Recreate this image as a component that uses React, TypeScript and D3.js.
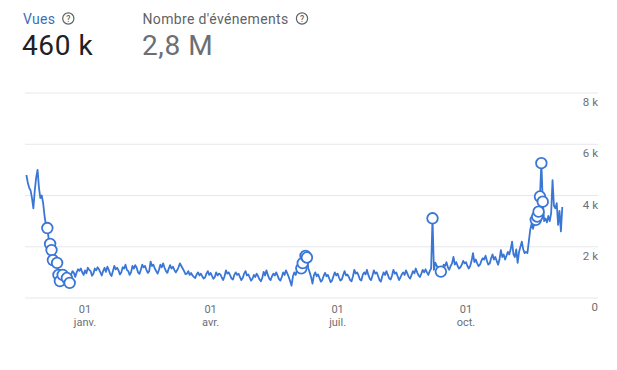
import React from "react";
import * as d3 from "d3";

const startDate = new Date(2022, 10, 20);

// daily "Vues" values, starting 20 Nov 2022
const views: number[] = [
  4800, 4500, 4300, 4200, 3900, 3500, 4200, 4700, 5000, 4300,
  3900, 4000, 3700, 3200, 2850, 2730, 2300, 2110, 1870, 1480,
  1550, 1400, 1370, 900, 660, 1000, 900, 1100, 1000, 780,
  950, 590, 900, 1050, 980, 820, 1000, 1120, 1060, 1150,
  1000, 900, 1080, 960, 1180, 1100, 1050, 870, 950, 1150,
  1080, 1200, 1120, 1000, 880, 1050, 1180, 1020, 1220, 1100,
  940, 860, 1050, 1250, 1120, 1180, 1080, 920, 1000, 1200,
  1150, 1300, 1100, 1050, 900, 1000, 1250, 1150, 1280, 1180,
  1000, 940, 1100, 1300, 1200, 1250, 1100, 980, 1050, 1420,
  1250, 1300, 1150, 1050, 950, 1100, 1300, 1200, 1350, 1180,
  1050, 980, 1150, 1280, 1150, 1220, 1100, 1000, 1080, 1200,
  1350, 1250, 1150, 1050, 930, 950, 1050, 900, 980, 880,
  820, 780, 920, 1000, 880, 950, 850, 760, 800, 950,
  1050, 900, 980, 860, 750, 820, 1000, 880, 950, 920,
  800, 700, 850, 1080, 950, 1000, 880, 760, 720, 900,
  1000, 900, 950, 820, 700, 780, 950, 1050, 880, 920,
  800, 680, 750, 900, 820, 950, 850, 730, 650, 780,
  1020, 880, 1080, 900, 760, 700, 850, 950, 880, 1000,
  870, 740, 680, 820, 1000, 900, 1080, 950, 820, 650,
  480, 850, 1000, 900, 1100, 1000, 980, 1160, 1360, 1500,
  1640, 1580, 1150, 1000, 820, 560, 880, 1000, 850, 920,
  780, 640, 700, 860, 980, 850, 900, 760, 620, 680,
  850, 1000, 880, 950, 800, 680, 720, 900, 1050, 880,
  920, 820, 700, 650, 850, 1100, 950, 1000, 880, 720,
  680, 900, 1000, 920, 1100, 900, 760, 700, 880, 1080,
  950, 1000, 860, 700, 640, 850, 1000, 900, 1050, 900,
  760, 720, 880, 1100, 950, 1000, 850, 700, 800, 920,
  1000, 900, 1080, 950, 820, 760, 900, 1050, 960, 1150,
  1000, 880, 820, 950, 1100, 1000, 1120, 1000, 900, 1050,
  1150, 3110, 1100, 1380, 1250, 1200, 1100, 1030, 1150, 1300,
  1250, 1400, 1200, 1100, 1250, 1350, 1600, 1300, 1400, 1250,
  1150, 1200, 1300, 1450, 1350, 1400, 1250, 1150, 1250, 1450,
  1750, 1400, 1500, 1350, 1250, 1300, 1450, 1550, 1500, 1650,
  1450, 1300, 1350, 1550, 1700, 1500, 1600, 1450, 1300, 1500,
  1870, 1600, 1700, 1500, 1650, 1800, 1700, 1900, 2200, 1700,
  1600, 1900, 1370, 1800, 2000, 2200, 1900, 1750, 1800, 1750,
  2200, 2660, 2900, 2700, 2900, 3050, 3180, 3370, 3960, 5260,
  3760, 3000, 3100, 2950, 3200, 3000, 3300, 4600, 3600, 3500,
  3700, 2850, 3400, 2600, 3550,
];

// indices of days flagged as anomalies (hollow circles)
const anomalyDays: number[] = [
  15, 17, 18, 19, 22, 23, 24, 26, 29, 31,
  197, 198, 200, 201,
  291, 297,
  365, 366, 367, 368, 369, 370,
];

const yTickValues: number[] = [0, 2000, 4000, 6000, 8000];
const yTickLabels: string[] = ["0", "2 k", "4 k", "6 k", "8 k"];

const xTickDates: Date[] = [
  new Date(2023, 0, 1),
  new Date(2023, 3, 1),
  new Date(2023, 6, 1),
  new Date(2023, 9, 1),
];
const xTickDay: string[] = ["01", "01", "01", "01"];
const xTickMonth: string[] = ["janv.", "avr.", "juil.", "oct."];

const metricLabels: string[] = ["Vues", "Nombre d'événements"];
const metricValues: string[] = ["460 k", "2,8 M"];

const LINE = "#3a76d6";
const FONT = "Roboto, 'Noto Sans', Arial, sans-serif";

function HelpIcon({ cx, cy }: { cx: number; cy: number }) {
  return (
    <g>
      <circle cx={cx} cy={cy} r={5.6} fill="none" stroke="#5f6368" strokeWidth={1.2} />
      <text
        x={cx}
        y={cy + 3.2}
        textAnchor="middle"
        fontSize={8.5}
        fontFamily={FONT}
        fontWeight={500}
        fill="#5f6368"
      >
        ?
      </text>
    </g>
  );
}

export default function App() {
  const W = 617;
  const H = 370;
  const data = views.map((v, i) => ({ date: d3.timeDay.offset(startDate, i), v, i }));
  const endDate = data[data.length - 1].date;

  const x = d3.scaleTime().domain([startDate, endDate]).range([26.4, 562.3]);
  const y = d3.scaleLinear().domain([0, 8000]).range([298, 93]);

  const line = d3
    .line<{ date: Date; v: number }>()
    .x((d) => x(d.date))
    .y((d) => y(d.v))
    .curve(d3.curveLinear);

  return (
    <svg
      width={W}
      height={H}
      style={{ position: "absolute", left: 0, top: 0, background: "#fff" }}
      fontFamily={FONT}
    >
      {/* header metrics */}
      <text x={23} y={23.5} fontSize={14} fill="#3b6fb8" letterSpacing={0.3}>
        {metricLabels[0]}
      </text>
      <HelpIcon cx={68.3} cy={18.5} />
      <text x={22} y={55} fontSize={28} fill="#202124" letterSpacing={0.6}>
        {metricValues[0]}
      </text>
      <text x={142.5} y={23.5} fontSize={14} fill="#5f6368" letterSpacing={0.35}>
        {metricLabels[1]}
      </text>
      <HelpIcon cx={302} cy={18.5} />
      <text x={142} y={55} fontSize={28} fill="#6b6f74" letterSpacing={0.6}>
        {metricValues[1]}
      </text>

      {/* grid lines */}
      {yTickValues.map((t, i) => (
        <g key={t}>
          <line x1={25} x2={598} y1={y(t)} y2={y(t)} stroke="#e6e8eb" strokeWidth={1} />
          <text
            x={598}
            y={y(t) + 13}
            textAnchor="end"
            fontSize={11.5}
            fill="#6b6f74"
          >
            {yTickLabels[i]}
          </text>
        </g>
      ))}

      {/* x axis labels */}
      {xTickDates.map((d, i) => (
        <g key={i}>
          <text x={x(d)} y={313} textAnchor="middle" fontSize={11} fill="#6b6f74">
            {xTickDay[i]}
          </text>
          <text x={x(d)} y={326} textAnchor="middle" fontSize={11} fill="#6b6f74">
            {xTickMonth[i]}
          </text>
        </g>
      ))}

      {/* series */}
      <path
        d={line(data) || ""}
        fill="none"
        stroke={LINE}
        strokeWidth={1.8}
        strokeLinejoin="round"
      />
      {anomalyDays.map((i) => (
        <circle
          key={i}
          cx={x(data[i].date)}
          cy={y(data[i].v)}
          r={5.3}
          fill="#fff"
          stroke={LINE}
          strokeWidth={1.8}
        />
      ))}
    </svg>
  );
}
